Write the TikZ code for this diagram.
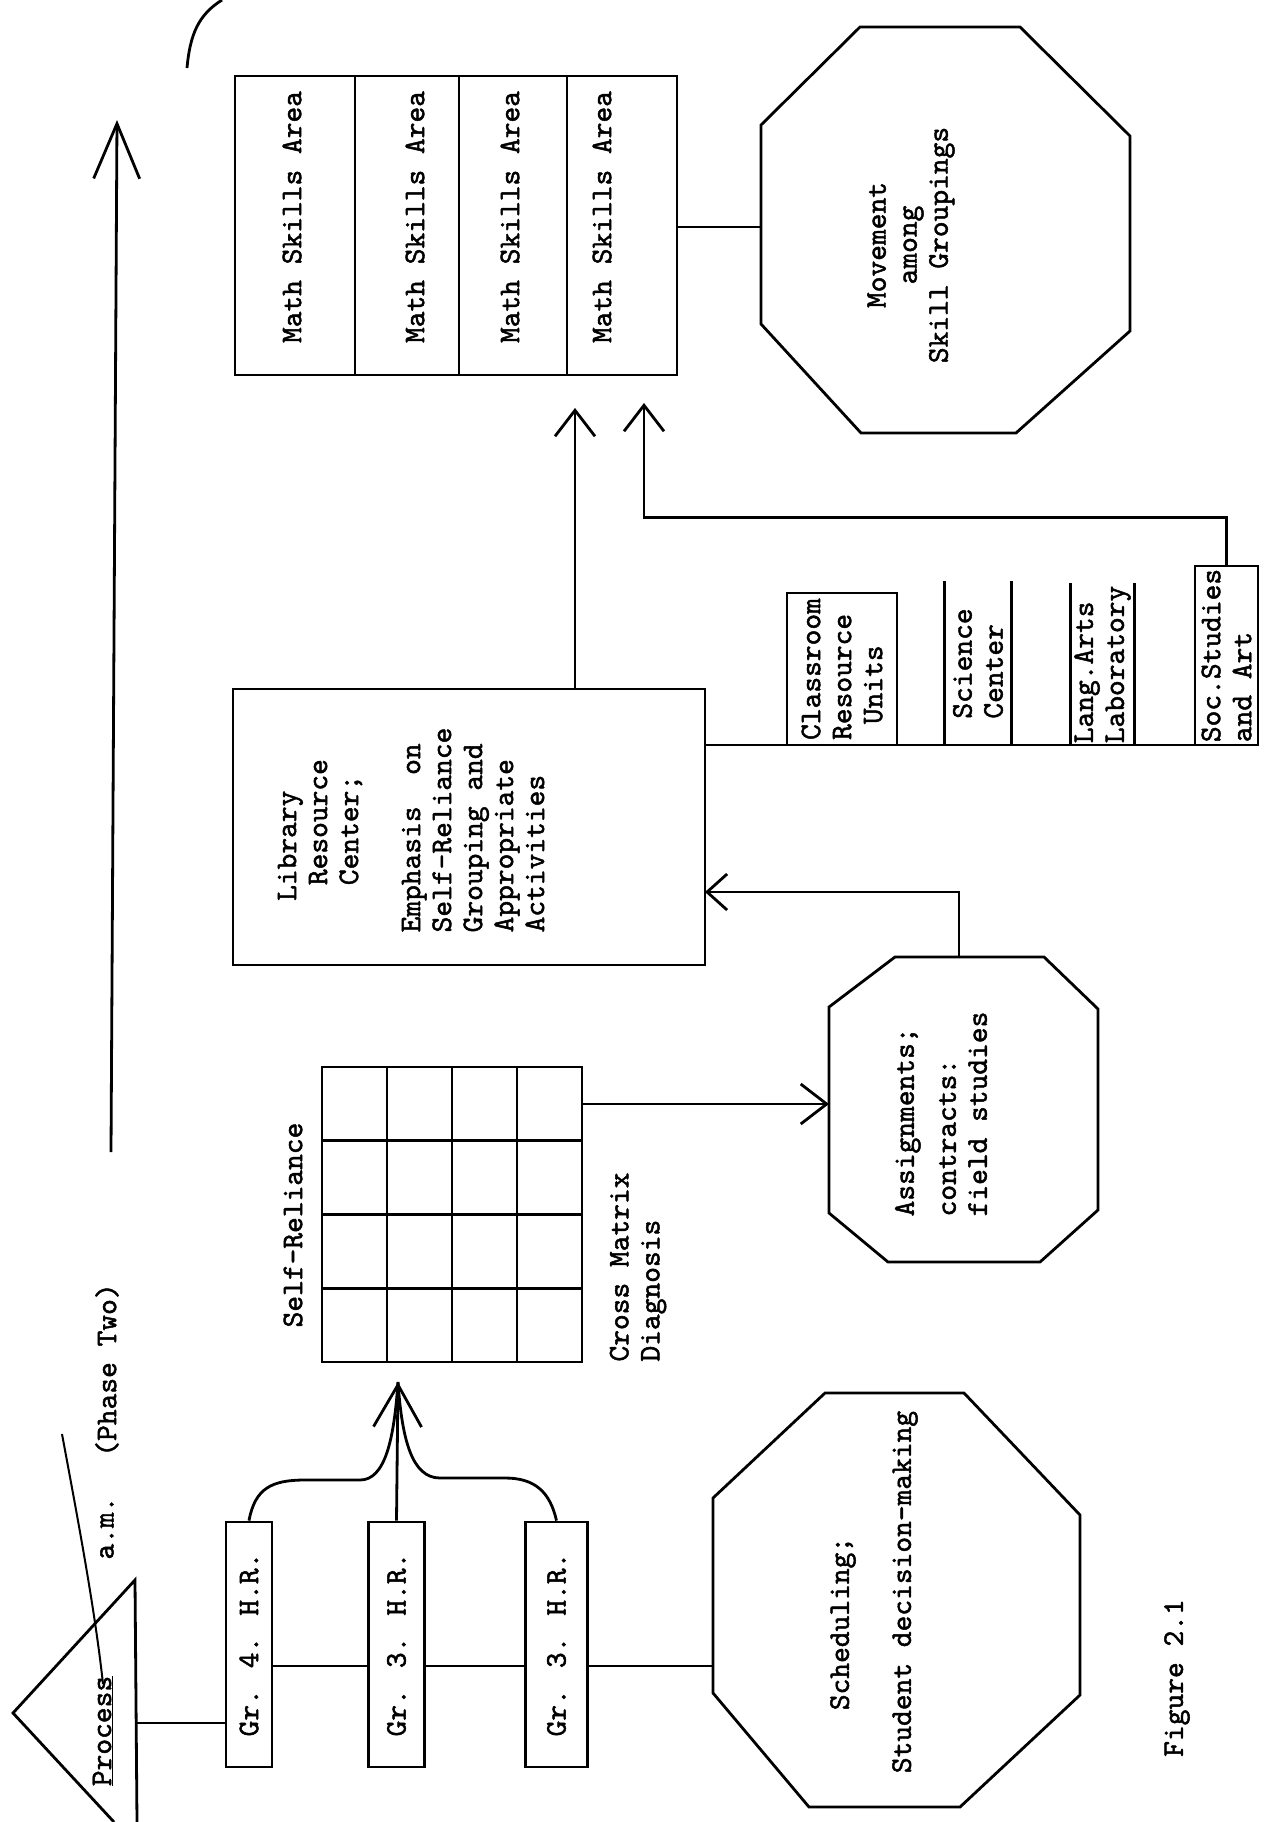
\documentclass[tikz,border=0pt]{standalone}
\usepackage{fontspec}
\usepackage{tikz}
\usetikzlibrary{arrows.meta}
\newfontfamily\tyfam{lmmono10-regular.otf}[FakeBold=1.6]
\newcommand*{\lwd}{2.8}
\newcommand*{\tw}{\fontsize{30}{31}\selectfont\tyfam}

\begin{document}
\begin{tikzpicture}[
   x=1pt, y=-1pt,
   line width=\lwd,
   >={Straight Barb[length=26pt, width=40pt]},
   txt/.style={rotate=90, font=\tw, inner sep=0},
   box/.style={rectangle, draw, line width=\lwd, inner sep=0},
   grbox/.style={box, rotate=90, font=\tw, minimum width=245},
   shelf/.style={rotate=90, font=\tw, inner sep=0, align=left}
  ]

  \useasboundingbox (0,0) rectangle (1266,1822);

  % Grid spacing
  \pgfmathsetmacro{\cw}{65}
  \pgfmathsetmacro{\chh}{73.75}

  % Process and phase arrow
  \draw (114,1822) -- (13,1713) -- (135,1580) -- (137,1822);
  \node (P) at (103,1731) [txt] {\underline{Process}};
  \node (AM) at (107,1528) [txt] {a.m.};
  \node (PT) at (107,1370) [txt] {(Phase Two)};
  \coordinate (Q0) at (111,1152);
  \coordinate (Q1) at (117,120);
  \draw[->, >={Straight Barb[length=55pt, width=46pt]}] (Q0) -- (Q1);
  \draw[line width=2] (62,1434) .. controls (78,1520) and (95,1610) .. (103,1684);
  \draw (187,68) .. controls (190,35) and (198,15) .. (222,0);

  % Home rooms
  \node (G4) at (249,1644.5) [grbox, minimum height=46] {Gr. 4. H.R.};
  \node (G3a) at (396.5,1644.5) [grbox, minimum height=56] {Gr. 3. H.R.};
  \node (G3b) at (556.5,1644.5) [grbox, minimum height=62] {Gr. 3. H.R.};

  \coordinate (Pout) at (137,1723);
  \draw (Pout) -- (G4.north |- Pout);
  \coordinate (R) at (0,1666);
  \coordinate (Hin) at (713,1666);
  \draw (G4.south |- R) -- (G3a.north |- R);
  \draw (G3a.south |- R) -- (G3b.north |- R);
  \draw (G3b.south |- R) -- (Hin);

  % Cross matrix
  \node (X) at (452,1214.5) [box, minimum width=260, minimum height=295] {};
  \foreach \i in {1,2,3} {
    \draw (322+\cw*\i,1067) -- (322+\cw*\i,1362);
    \draw (322,1067+\chh*\i) -- (582,1067+\chh*\i);
  }
  \node (SR) at (293,1225) [txt] {Self-Reliance};
  \node (CM) at (638,1267) [txt, align=left] {Cross Matrix\\Diagnosis};

  \coordinate (T) at (398,1382);
  \draw (G4.east) .. controls (255,1488) and (272,1480) .. (305,1480) -- (360,1480)
        .. controls (385,1480) and (394,1440) .. (T);
  \draw (G3b.east) .. controls (550,1492) and (535,1478) .. (505,1478) -- (440,1478)
        .. controls (412,1478) and (402,1440) .. (T);
  \draw[->, >={Straight Barb[length=42pt, width=48pt]}] (G3a.east) -- (T);

  % Scheduling
  \draw (825,1393) -- (964,1393) -- (1080,1515) -- (1080,1695) -- (960,1807)
        -- (809,1807) -- (713,1693) -- (713,1498) -- cycle;
  \node (H) at (874,1592) [txt, align=left] {\ \ \ \ Scheduling;\\[31pt]Student decision-making};
  \node (Fig) at (1177,1678) [txt] {Figure 2.1};

  % Assignments
  \draw (895,957) -- (1044,957) -- (1098,1009) -- (1098,1210) -- (1040,1262)
        -- (888,1262) -- (829,1213) -- (829,1007) -- cycle;
  \node (A) at (941,1114) [txt, align=left] {Assignments;\\[11pt]contracts:\\field studies};
  \coordinate (Ain) at (829,1104);
  \coordinate (Aup) at (959,957);
  \draw[->] (X.east |- Ain) -- (Ain);

  % Library
  \node (L) at (469,827) [box, minimum width=472, minimum height=276] {};
  \node (Lt) at (411,830) [txt, align=left] {\ \ Library\\\ \ \ Resource\\\ \ \ Center;\\[31pt]Emphasis\ \ on\\Self-Reliance\\Grouping and\\Appropriate\\Activities};
  \coordinate (Lin) at (705,892);
  \draw[->, >={Straight Barb[length=20pt, width=36pt]}] (Aup) |- (Lin);

  % Resource areas
  \coordinate (F) at (1258,745);
  \draw (L.east |- F) -- (F);
  \node (C) at (842,669) [box, shelf, minimum width=152, minimum height=110] {Classroom\\Resource\\\ Units};
  \node (Sc) at (978,663.5) [shelf, minimum width=163, minimum height=64] {Science\\Center};
  \draw (Sc.north west) -- (Sc.north east) (Sc.south west) -- (Sc.south east);
  \node (La) at (1102.5,664.5) [shelf, minimum width=161, minimum height=61] {Lang.Arts\\Laboratory};
  \draw (La.north west) -- (La.north east) (La.south west) -- (La.south east);
  \node (So) at (1226.5,655.5) [box, shelf, minimum width=179, minimum height=63] {Soc.Studies\\and Art};

  % Math skills
  \node (S) at (456,225.5) [box, minimum width=442, minimum height=299] {};
  \foreach \x in {355, 459, 567} {
    \draw (\x,76) -- (\x,375);
  }
  \foreach \x/\n in {292/1, 415/2, 510/3, 602/4} {
    \node (S\n) at (\x,217) [txt] {Math Skills Area};
  }
  \coordinate (Ua) at (575,408);
  \coordinate (Ub) at (644,403);
  \draw[->] (L.north -| Ua) -- (Ua);
  \draw[->] (So.east) -- ++(0,-47) -| (Ub);

  % Movement
  \draw (761,125) -- (860,27) -- (1020,27) -- (1130,136) -- (1130,331) -- (1016,433)
        -- (861,433) -- (761,324) -- cycle;
  \node (M) at (911,245) [txt, align=center] {Movement\\among\\Skill Groupings};
  \coordinate (Min) at (761,227);
  \draw (S.east |- Min) -- (Min);

\end{tikzpicture}
\end{document}
